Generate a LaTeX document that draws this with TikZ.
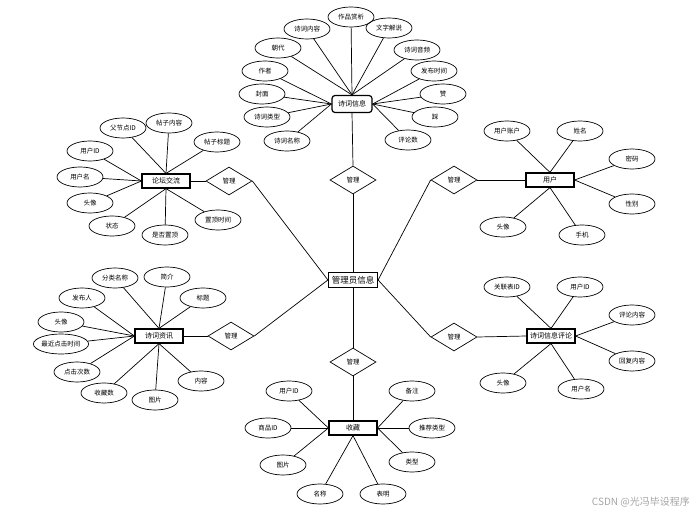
\documentclass[tikz,border=0pt]{standalone}
\usepackage{fontspec}
\newfontfamily\cjk{Noto Sans CJK SC}
\usetikzlibrary{shapes.geometric}
\begin{document}
\begin{tikzpicture}[x=1pt,y=-1pt,
  attr/.style={ellipse,draw,line width=0.7pt,minimum width=46pt,minimum height=20pt,inner sep=0pt,font=\cjk\fontsize{6.5}{7}\selectfont},
  ent/.style={rectangle,draw,line width=1.2pt,minimum width=48pt,minimum height=14pt,inner sep=0pt,font=\cjk\fontsize{7}{8}\selectfont},
  rel/.style={diamond,draw,line width=0.7pt,minimum width=46pt,minimum height=28pt,inner sep=0pt,font=\cjk\fontsize{6.5}{7}\selectfont},
  conn/.style={line width=0.7pt}]
\useasboundingbox[fill=white] (0,0) rectangle (697,516);
% entities
\node[ent,rounded corners=3pt,minimum width=40pt,minimum height=17pt] (info) at (352,104) {诗词信息};
\node[ent] (forum) at (166,181) {论坛交流};
\node[ent] (user) at (550,180) {用户};
\node[ent,minimum width=49pt,minimum height=15pt,font=\cjk\fontsize{8.5}{9}\selectfont] (admin) at (353,280) {管理员信息};
\node[ent] (news) at (159,336) {诗词资讯};
\node[ent] (comment) at (551,336) {诗词信息评论};
\node[ent] (fav) at (353,428) {收藏};
% relations
\node[rel] (r1) at (353,180) {管理};
\node[rel] (r2) at (229,181) {管理};
\node[rel] (r3) at (454,180) {管理};
\node[rel] (r4) at (231,336) {管理};
\node[rel] (r5) at (454,337) {管理};
\node[rel] (r6) at (353,362) {管理};
\draw[conn] (admin.north) -- (r1.south);
\draw[conn] (admin.west) -- (r2.east);
\draw[conn] (admin.east) -- (r3.west);
\draw[conn] (admin.west) -- (r4.east);
\draw[conn] (admin.east) -- (r5.west);
\draw[conn] (admin.south) -- (r6.north);
\draw[conn] (r1.north) -- (info.south);
\draw[conn] (r2.west) -- (forum.east);
\draw[conn] (r3.east) -- (user.west);
\draw[conn] (r4.west) -- (news.east);
\draw[conn] (r5.east) -- (comment.west);
\draw[conn] (r6.south) -- (fav.north);
% attributes
\foreach \nm/\x/\y/\txt/\e/\an in {
  i1/351/17/作品赏析/info/north, i2/307/29/诗词内容/info/north, i3/389/28/文字解说/info/north,
  i4/278/48/朝代/info/north, i5/417/50/诗词音频/info/north, i6/265/71/作者/info/west,
  i7/434/71/发布时间/info/east, i8/262/94/封面/info/west, i9/443/94/赞/info/east,
  i10/267/117/诗词类型/info/west, i11/435/117/踩/info/east, i12/287/141/诗词名称/info/west,
  i13/408/140/评论数/info/east,
  f1/123/128/父节点ID/forum/north, f2/169/123/帖子内容/forum/north, f3/217/142/帖子标题/forum/north,
  f4/90/151/用户ID/forum/west, f5/80/177/用户名/forum/west, f6/90/203/头像/forum/west,
  f7/112/226/状态/forum/south, f8/165/235/是否置顶/forum/south, f9/218/220/置顶时间/forum/south,
  u1/507/131/用户账户/user/north, u2/580/131/姓名/user/north, u3/632/159/密码/user/east,
  u4/632/204/性别/user/east, u5/503/227/头像/user/south, u6/582/235/手机/user/south,
  n1/115/278/分类名称/news/north, n2/167/277/简介/news/north, n3/203/298/标题/news/north,
  n4/82/298/发布人/news/west, n5/61/322/头像/news/west, n7/77/372/点击次数/news/west,
  n8/104/393/收藏数/news/south, n9/155/400/图片/news/south, n10/201/381/内容/news/south,
  c1/507/287/关联表ID/comment/north, c2/580/287/用户ID/comment/north, c3/632/315/评论内容/comment/east,
  c4/632/361/回复内容/comment/east, c5/503/383/头像/comment/south, c6/581/389/用户名/comment/south,
  s1/289/391/用户ID/fav/west, s2/268/428/商品ID/fav/west, s3/283/465/图片/fav/west,
  s4/412/391/备注/fav/east, s5/432/428/推荐类型/fav/east, s6/412/462/类型/fav/east,
  s7/320/494/名称/fav/south, s8/383/494/表明/fav/south}
{
  \node[attr] (\nm) at (\x,\y) {\txt};
  \draw[conn] (\nm) -- (\e.\an);
}
\node[attr,minimum width=53pt] (n6) at (61,344) {最近点击时间};
\draw[conn] (n6) -- (news.west);
% watermark
\node[font=\cjk\fontsize{10}{11}\selectfont,text=black!35,anchor=east,inner sep=0pt] (wm) at (690,502) {CSDN @光冯毕设程序};
\end{tikzpicture}
\end{document}
